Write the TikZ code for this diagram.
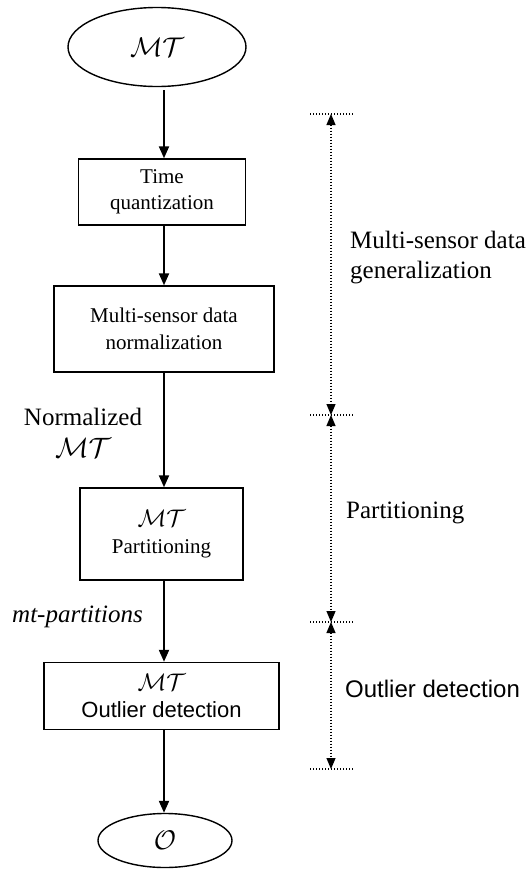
\RequirePackage{fix-cm}
\documentclass[tikz,border=0pt]{standalone}
\usepackage{fontspec}
\setmainfont{Liberation Serif}
\newfontfamily\sansf{Liberation Sans}
\usetikzlibrary{shapes.geometric,arrows.meta}
\begin{document}
\begin{tikzpicture}[x=1pt,y=-1pt,
  box/.style={draw, line width=1.4pt, inner sep=0pt, align=center, font=\fontsize{21}{26.5}\selectfont},
  oval/.style={draw, ellipse, line width=1.4pt, inner sep=0pt},
  arr/.style={line width=2pt, -{Triangle[width=10pt,length=12pt]}},
  dim/.style={line width=1.2pt, dash pattern=on 1.4pt off 1.6pt, {Triangle[width=9pt,length=11pt]}-{Triangle[width=9pt,length=11pt]}},
  tickline/.style={line width=1.2pt, dash pattern=on 1.4pt off 1.6pt},
  lab/.style={inner sep=0pt, font=\fontsize{25}{30}\selectfont}]
\useasboundingbox (0,0) rectangle (530,870);

\node[oval, minimum width=178pt, minimum height=79pt] (mt) at (157,47) {\fontsize{27}{30}\selectfont$\mathcal{MT}$};
\node[box, minimum width=167pt, minimum height=66pt] (tq) at (162,192) {Time\\quantization};
\node[box, minimum width=220pt, minimum height=86pt] (nm) at (164,329) {Multi-sensor data\\normalization};
\node[box, minimum width=163pt, minimum height=92pt] (pt) at (161.5,534) {{\fontsize{24}{26.5}\selectfont$\mathcal{MT}$}\\Partitioning};
\node[box, minimum width=235pt, minimum height=67pt] (od) at (161.5,696) {{\fontsize{24}{26.5}\selectfont$\mathcal{MT}$}\\{\sansf\fontsize{22}{26.5}\selectfont Outlier detection}};
\node[oval, minimum width=134pt, minimum height=54pt] (o) at (165,840.5) {\fontsize{27}{30}\selectfont$\mathcal{O}$};

\coordinate (ax) at (164,0);
\draw[arr, shorten <=3pt] (mt.south -| ax) -- (tq.north -| ax);
\draw[arr] (tq.south -| ax) -- (nm.north -| ax);
\draw[arr] (nm.south -| ax) -- (pt.north -| ax);
\draw[arr] (pt.south -| ax) -- (od.north -| ax);
\draw[arr] (od.south -| ax) -- (o.north -| ax);

\coordinate (d1) at (331,114);
\coordinate (d2) at (331,415);
\coordinate (d3) at (331,622);
\coordinate (d4) at (331,769);
\foreach \d in {d1,d2,d3,d4}{
  \draw[tickline] ([xshift=-21pt]\d) -- ([xshift=22pt]\d);
}
\draw[dim] (d1) -- (d2);
\draw[dim] (d2) -- (d3);
\draw[dim] (d3) -- (d4);

\node[lab, anchor=north west, align=left] (lg) at (350,231) {Multi-sensor data\\generalization};
\node[lab, anchor=base west] (lp) at (346,518) {Partitioning};
\node[lab, anchor=base west, font=\sansf\fontsize{24}{30}\selectfont] (lo) at (345,697) {Outlier detection};
\node[lab, anchor=north, align=center, font=\fontsize{25}{32}\selectfont] (ln) at (83,408) {Normalized\\{\fontsize{28}{32}\selectfont$\mathcal{MT}$}};
\node[lab, anchor=base west, font=\itshape\fontsize{25}{30}\selectfont] (lm) at (12,622) {mt-partitions};
\end{tikzpicture}
\end{document}
